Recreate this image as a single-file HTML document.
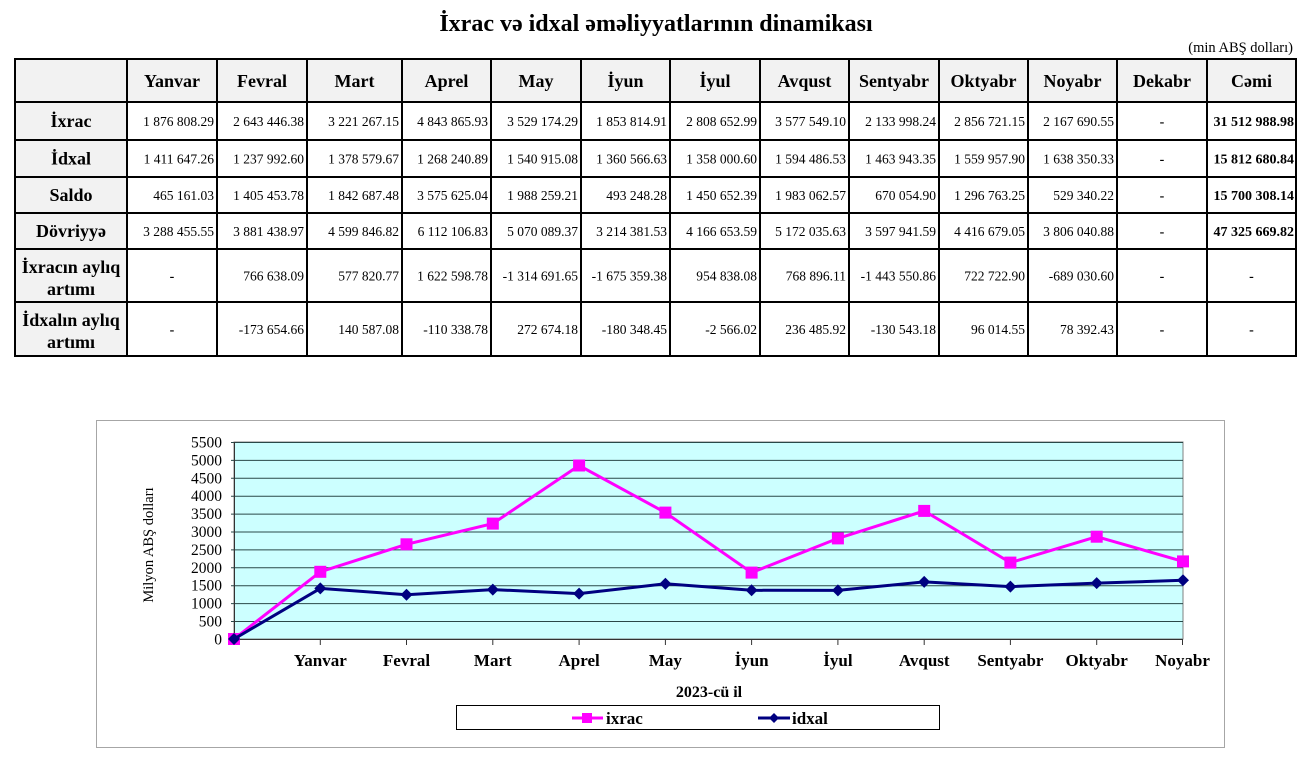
<!DOCTYPE html>
<html><head><meta charset="utf-8"><style>
html,body{margin:0;padding:0;background:#fff;}
svg{display:block;}
text{font-family:"Liberation Serif",serif;}
</style></head><body>
<svg width="1305" height="763" viewBox="0 0 1305 763" xmlns="http://www.w3.org/2000/svg">
<text x="656" y="31" text-anchor="middle" font-size="24" font-weight="bold">İxrac və idxal əməliyyatlarının dinamikası</text>
<text x="1293" y="52" text-anchor="end" font-size="14.5">(min ABŞ dolları)</text>
<!-- table backgrounds -->
<rect x="15" y="59" width="1281" height="43" fill="#f2f2f2"/>
<rect x="15" y="59" width="112" height="297" fill="#f2f2f2"/>
<!-- header -->
<g font-size="18" font-weight="bold" text-anchor="middle">
<text x="172" y="87">Yanvar</text><text x="262" y="87">Fevral</text><text x="354.5" y="87">Mart</text><text x="446.5" y="87">Aprel</text><text x="536" y="87">May</text><text x="625.5" y="87">İyun</text><text x="715" y="87">İyul</text><text x="804.5" y="87">Avqust</text><text x="894" y="87">Sentyabr</text><text x="983.5" y="87">Oktyabr</text><text x="1072.5" y="87">Noyabr</text><text x="1162" y="87">Dekabr</text><text x="1251.5" y="87">Cəmi</text>
<text x="71" y="127">İxrac</text><text x="71" y="164.5">İdxal</text><text x="71" y="201">Saldo</text><text x="71" y="237">Dövriyyə</text>
<text x="71" y="273">İxracın aylıq</text><text x="71" y="295">artımı</text>
<text x="71" y="326">İdxalın aylıq</text><text x="71" y="348">artımı</text>
</g>
<g font-size="13.5" text-anchor="end">
<text x="214" y="126">1 876 808.29</text><text x="304" y="126">2 643 446.38</text><text x="399" y="126">3 221 267.15</text><text x="488" y="126">4 843 865.93</text><text x="578" y="126">3 529 174.29</text><text x="667" y="126">1 853 814.91</text><text x="757" y="126">2 808 652.99</text><text x="846" y="126">3 577 549.10</text><text x="936" y="126">2 133 998.24</text><text x="1025" y="126">2 856 721.15</text><text x="1114" y="126">2 167 690.55</text>
<text x="214" y="163.5">1 411 647.26</text><text x="304" y="163.5">1 237 992.60</text><text x="399" y="163.5">1 378 579.67</text><text x="488" y="163.5">1 268 240.89</text><text x="578" y="163.5">1 540 915.08</text><text x="667" y="163.5">1 360 566.63</text><text x="757" y="163.5">1 358 000.60</text><text x="846" y="163.5">1 594 486.53</text><text x="936" y="163.5">1 463 943.35</text><text x="1025" y="163.5">1 559 957.90</text><text x="1114" y="163.5">1 638 350.33</text>
<text x="214" y="200">465 161.03</text><text x="304" y="200">1 405 453.78</text><text x="399" y="200">1 842 687.48</text><text x="488" y="200">3 575 625.04</text><text x="578" y="200">1 988 259.21</text><text x="667" y="200">493 248.28</text><text x="757" y="200">1 450 652.39</text><text x="846" y="200">1 983 062.57</text><text x="936" y="200">670 054.90</text><text x="1025" y="200">1 296 763.25</text><text x="1114" y="200">529 340.22</text>
<text x="214" y="236">3 288 455.55</text><text x="304" y="236">3 881 438.97</text><text x="399" y="236">4 599 846.82</text><text x="488" y="236">6 112 106.83</text><text x="578" y="236">5 070 089.37</text><text x="667" y="236">3 214 381.53</text><text x="757" y="236">4 166 653.59</text><text x="846" y="236">5 172 035.63</text><text x="936" y="236">3 597 941.59</text><text x="1025" y="236">4 416 679.05</text><text x="1114" y="236">3 806 040.88</text>
<text x="304" y="280.5">766 638.09</text><text x="399" y="280.5">577 820.77</text><text x="488" y="280.5">1 622 598.78</text><text x="578" y="280.5">-1 314 691.65</text><text x="667" y="280.5">-1 675 359.38</text><text x="757" y="280.5">954 838.08</text><text x="846" y="280.5">768 896.11</text><text x="936" y="280.5">-1 443 550.86</text><text x="1025" y="280.5">722 722.90</text><text x="1114" y="280.5">-689 030.60</text>
<text x="304" y="334">-173 654.66</text><text x="399" y="334">140 587.08</text><text x="488" y="334">-110 338.78</text><text x="578" y="334">272 674.18</text><text x="667" y="334">-180 348.45</text><text x="757" y="334">-2 566.02</text><text x="846" y="334">236 485.92</text><text x="936" y="334">-130 543.18</text><text x="1025" y="334">96 014.55</text><text x="1114" y="334">78 392.43</text>
</g>
<g font-size="14" font-weight="bold" text-anchor="end">
<text x="1294" y="126">31 512 988.98</text><text x="1294" y="163.5">15 812 680.84</text><text x="1294" y="200">15 700 308.14</text><text x="1294" y="236">47 325 669.82</text>
</g>
<g font-size="14" font-weight="bold" text-anchor="middle">
<text x="1162" y="126">-</text><text x="1162" y="163.5">-</text><text x="1162" y="200">-</text><text x="1162" y="236">-</text><text x="1162" y="280.5">-</text><text x="1162" y="334">-</text>
<text x="172" y="280.5">-</text><text x="172" y="334">-</text><text x="1251.5" y="280.5">-</text><text x="1251.5" y="334">-</text>
</g>
<!-- table lines -->
<g stroke="#000" stroke-width="2">
<line x1="15" y1="59" x2="1296" y2="59"/><line x1="15" y1="102" x2="1296" y2="102"/><line x1="15" y1="140" x2="1296" y2="140"/><line x1="15" y1="177" x2="1296" y2="177"/><line x1="15" y1="213" x2="1296" y2="213"/><line x1="15" y1="249" x2="1296" y2="249"/><line x1="15" y1="302" x2="1296" y2="302"/><line x1="15" y1="356" x2="1296" y2="356"/>
<line x1="15" y1="58" x2="15" y2="357"/><line x1="127" y1="58" x2="127" y2="357"/><line x1="217" y1="58" x2="217" y2="357"/><line x1="307" y1="58" x2="307" y2="357"/><line x1="402" y1="58" x2="402" y2="357"/><line x1="491" y1="58" x2="491" y2="357"/><line x1="581" y1="58" x2="581" y2="357"/><line x1="670" y1="58" x2="670" y2="357"/><line x1="760" y1="58" x2="760" y2="357"/><line x1="849" y1="58" x2="849" y2="357"/><line x1="939" y1="58" x2="939" y2="357"/><line x1="1028" y1="58" x2="1028" y2="357"/><line x1="1117" y1="58" x2="1117" y2="357"/><line x1="1207" y1="58" x2="1207" y2="357"/><line x1="1296" y1="58" x2="1296" y2="357"/>
</g>
<!-- chart frame -->
<rect x="96.5" y="420.5" width="1128" height="327" fill="#fff" stroke="#a6a6a6" stroke-width="1"/>
<rect x="234" y="442" width="949" height="197" fill="#ccffff" stroke="#808080" stroke-width="1"/>
<g stroke="#2a4848" stroke-width="1">
<line x1="231" y1="442.5" x2="1183" y2="442.5"/><line x1="231" y1="460.4" x2="1183" y2="460.4"/><line x1="231" y1="478.3" x2="1183" y2="478.3"/><line x1="231" y1="496.2" x2="1183" y2="496.2"/><line x1="231" y1="514.1" x2="1183" y2="514.1"/><line x1="231" y1="532" x2="1183" y2="532"/><line x1="231" y1="549.9" x2="1183" y2="549.9"/><line x1="231" y1="567.8" x2="1183" y2="567.8"/><line x1="231" y1="585.7" x2="1183" y2="585.7"/><line x1="231" y1="603.6" x2="1183" y2="603.6"/><line x1="231" y1="621.5" x2="1183" y2="621.5"/>
</g>
<g stroke="#333" stroke-width="1">
<line x1="234.5" y1="442" x2="234.5" y2="639"/>
<line x1="231" y1="639.5" x2="1183" y2="639.5"/>
<line x1="320.3" y1="639" x2="320.3" y2="645"/><line x1="406.5" y1="639" x2="406.5" y2="645"/><line x1="492.8" y1="639" x2="492.8" y2="645"/><line x1="579.1" y1="639" x2="579.1" y2="645"/><line x1="665.4" y1="639" x2="665.4" y2="645"/><line x1="751.6" y1="639" x2="751.6" y2="645"/><line x1="837.9" y1="639" x2="837.9" y2="645"/><line x1="924.2" y1="639" x2="924.2" y2="645"/><line x1="1010.4" y1="639" x2="1010.4" y2="645"/><line x1="1096.7" y1="639" x2="1096.7" y2="645"/><line x1="1182.5" y1="639" x2="1182.5" y2="645"/>
</g>
<g font-size="15.5" text-anchor="end">
<text x="222" y="447.5">5500</text><text x="222" y="465.4">5000</text><text x="222" y="483.3">4500</text><text x="222" y="501.2">4000</text><text x="222" y="519.1">3500</text><text x="222" y="537">3000</text><text x="222" y="554.9">2500</text><text x="222" y="572.8">2000</text><text x="222" y="590.7">1500</text><text x="222" y="608.6">1000</text><text x="222" y="626.5">500</text><text x="222" y="644.5">0</text>
</g>
<text transform="translate(153,545) rotate(-90)" text-anchor="middle" font-size="14.5">Milyon ABŞ dolları</text>
<g font-size="17" font-weight="bold" text-anchor="middle">
<text x="320.3" y="666">Yanvar</text><text x="406.5" y="666">Fevral</text><text x="492.8" y="666">Mart</text><text x="579.1" y="666">Aprel</text><text x="665.4" y="666">May</text><text x="751.6" y="666">İyun</text><text x="837.9" y="666">İyul</text><text x="924.2" y="666">Avqust</text><text x="1010.4" y="666">Sentyabr</text><text x="1096.7" y="666">Oktyabr</text><text x="1182.5" y="666">Noyabr</text>
</g>
<text x="709" y="697" text-anchor="middle" font-size="16" font-weight="bold">2023-cü il</text>
<!-- series -->
<polyline fill="none" stroke="#ff00ff" stroke-width="3" points="234,639 320.3,571.8 406.5,544.3 492.8,523.6 579.1,465.5 665.4,512.6 751.6,572.6 837.9,538.4 924.2,510.9 1010.4,562.6 1096.7,536.7 1183,561.4"/>
<g fill="#ff00ff">
<rect x="228" y="633" width="12" height="12"/><rect x="314.3" y="565.8" width="12" height="12"/><rect x="400.5" y="538.3" width="12" height="12"/><rect x="486.8" y="517.6" width="12" height="12"/><rect x="573.1" y="459.5" width="12" height="12"/><rect x="659.4" y="506.6" width="12" height="12"/><rect x="745.6" y="566.6" width="12" height="12"/><rect x="831.9" y="532.4" width="12" height="12"/><rect x="918.2" y="504.9" width="12" height="12"/><rect x="1004.4" y="556.6" width="12" height="12"/><rect x="1090.7" y="530.7" width="12" height="12"/><rect x="1177" y="555.4" width="12" height="12"/>
</g>
<polyline fill="none" stroke="#000080" stroke-width="3" points="234,639 320.3,588.4 406.5,594.7 492.8,589.6 579.1,593.6 665.4,583.8 751.6,590.3 837.9,590.4 924.2,581.9 1010.4,586.6 1096.7,583.1 1183,580.3"/>
<g fill="#000080">
<path d="M234 633l6 6-6 6-6-6z"/><path d="M320.3 582.4l6 6-6 6-6-6z"/><path d="M406.5 588.7l6 6-6 6-6-6z"/><path d="M492.8 583.6l6 6-6 6-6-6z"/><path d="M579.1 587.6l6 6-6 6-6-6z"/><path d="M665.4 577.8l6 6-6 6-6-6z"/><path d="M751.6 584.3l6 6-6 6-6-6z"/><path d="M837.9 584.4l6 6-6 6-6-6z"/><path d="M924.2 575.9l6 6-6 6-6-6z"/><path d="M1010.4 580.6l6 6-6 6-6-6z"/><path d="M1096.7 577.1l6 6-6 6-6-6z"/><path d="M1183 574.3l6 6-6 6-6-6z"/>
</g>
<!-- legend -->
<rect x="456.5" y="705.5" width="483" height="24" fill="#fff" stroke="#000" stroke-width="1"/>
<line x1="572" y1="718" x2="603" y2="718" stroke="#ff00ff" stroke-width="3"/>
<rect x="582" y="713" width="10" height="10" fill="#ff00ff"/>
<text x="606" y="724" font-size="17" font-weight="bold">ixrac</text>
<line x1="758" y1="718" x2="790" y2="718" stroke="#000080" stroke-width="3"/>
<path d="M774 713l5 5-5 5-5-5z" fill="#000080"/>
<text x="792" y="724" font-size="17" font-weight="bold">idxal</text>
</svg>
</body></html>
